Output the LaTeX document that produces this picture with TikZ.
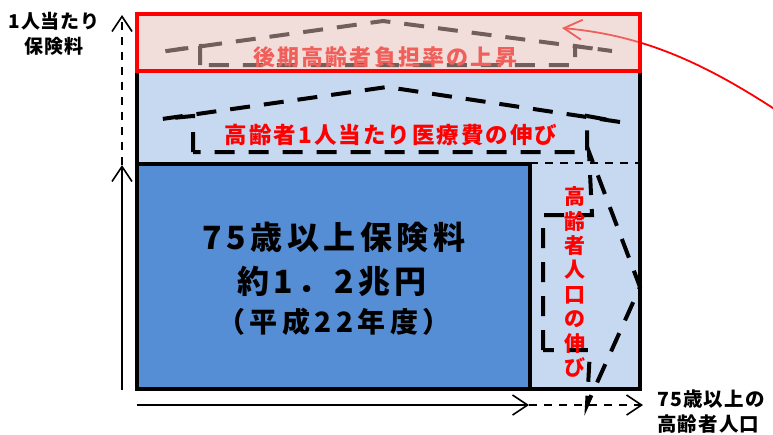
\documentclass[tikz,border=0pt]{standalone}
\usepackage{fontspec}
\setmainfont{Noto Sans CJK JP}
\usetikzlibrary{arrows.meta,positioning}
\definecolor{paleblue}{RGB}{198,217,241}
\definecolor{boxblue}{RGB}{85,142,213}
\definecolor{veilpink}{RGB}{228,190,182}
\newcommand{\jfont}[3]{\fontsize{#1}{#2}\selectfont\bfseries\addfontfeature{LetterSpace=#3}}

\begin{document}
\begin{tikzpicture}[x=1pt,y=-1pt]

\tikzstyle{frame}=[line width=4pt]
\tikzstyle{house}=[line width=4pt, dash pattern=on 20pt off 14pt]
\tikzstyle{thin dash}=[line width=1.6pt, dash pattern=on 8pt off 7pt]
\tikzstyle{axis tip}=[-{Straight Barb[length=15pt,width=20pt,line width=1.6pt]}]
\tikzstyle{label}=[inner sep=0pt, align=center]

\useasboundingbox (0,0) rectangle (773,434);

% body of the chart
\fill[paleblue] (137,71) rectangle (640,389);
\draw[frame, fill=boxblue] (137,164) rectangle (530,389);
\draw[thin dash] (530,163) -- (640,163);
\draw[frame] (137,71) -- (137,389) -- (640,389) -- (640,71);

% growth per person
\draw[house] (193,152) -- (193,116) -- (162,119) -- (387,87) -- (620,122) -- (587,116) -- (587,152) -- cycle;
\node[label, text=red, font={\jfont{22.5}{27}{9}}] (costgrowth) at (391,135) {高齢者1人当たり医療費の伸び};

% growth of population
\draw[house] (543,350) -- (543,215) -- (592,215) -- (589,152) -- (640,287) -- (587,405) -- (590,350) -- cycle;
\node[label, text=red, font={\jfont{21}{24.4}{0}}] (popgrowth) at (575,282) {高\\齢\\者\\人\\口\\の\\伸\\び};

% premium box text
\node[label, font={\jfont{32}{38}{14}}] (premium) at (334,237) {75歳以上保険料};
\node[label, font={\jfont{32}{38}{14}}] (amount) at (332,281) {約1．2兆円};
\node[label, font={\jfont{28}{32}{16}}] (year) at (334,322) {（平成22年度）};

% burden rate
\coordinate (risefrom) at (779,112);
\coordinate (risetip) at (562,28);
\draw[house] (200,65) -- (200,46) -- (160,52) -- (383,21) -- (612,51) -- (575,46) -- (575,65) -- cycle;
\node[label, text=red, font={\jfont{22}{26}{10}}] (burden) at (385,57) {後期高齢者負担率の上昇};
\draw[red, line width=1.8pt, -{Straight Barb[length=18pt,width=20pt,line width=1.8pt]}] (risefrom) .. controls (700,60) and (640,35) .. (risetip);
\fill[veilpink, fill opacity=0.5] (137,14) rectangle (640,71);
\draw[red, frame] (137,14) rectangle (640,71);

% axes
\coordinate (yfoot) at (122,390);
\coordinate (ymid) at (122,165);
\coordinate (ytop) at (122,15);
\coordinate (xfoot) at (137,405);
\coordinate (xmid) at (529,405);
\coordinate (xend) at (643,405);
\draw[line width=1.6pt, axis tip] (yfoot) -- (ymid);
\draw[thin dash, axis tip] (ymid) -- (ytop);
\draw[line width=1.6pt, axis tip] (xfoot) -- (xmid);
\draw[thin dash, axis tip] (xmid) -- (xend);

\node[label, font={\jfont{19}{25}{4}}] (premiumaxis) at (54,34) {1人当たり\\保険料};
\node[label, anchor=west, align=left, font={\jfont{19.5}{25}{6}}] (popaxis) at (657,412) {75歳以上の\\高齢者人口};

\end{tikzpicture}
\end{document}
